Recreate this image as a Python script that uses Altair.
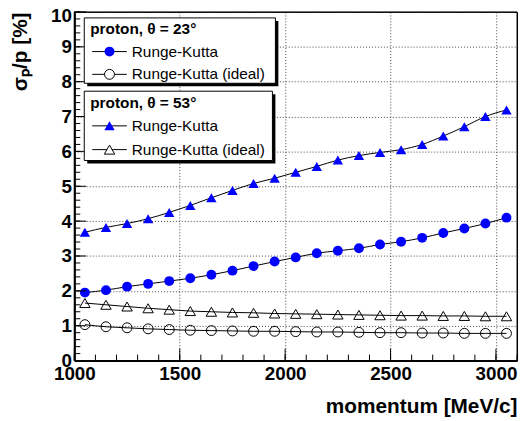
import altair as alt
import pandas as pd

momentum = [1050, 1150, 1250, 1350, 1450, 1550, 1650, 1750, 1850, 1950, 2050,
            2150, 2250, 2350, 2450, 2550, 2650, 2750, 2850, 2950, 3050]
rk23 = [1.95, 2.02, 2.12, 2.20, 2.28, 2.36, 2.46, 2.58, 2.71, 2.84, 2.96,
        3.08, 3.15, 3.22, 3.33, 3.41, 3.52, 3.66, 3.79, 3.93, 4.10]
rk23_ideal = [1.03, 0.97, 0.94, 0.91, 0.89, 0.87, 0.86, 0.85, 0.84, 0.84, 0.83,
              0.82, 0.82, 0.81, 0.80, 0.80, 0.79, 0.79, 0.78, 0.78, 0.78]
rk53 = [3.68, 3.82, 3.93, 4.07, 4.25, 4.45, 4.67, 4.88, 5.08, 5.23, 5.40,
        5.57, 5.75, 5.88, 5.97, 6.05, 6.20, 6.44, 6.71, 7.00, 7.19]
rk53_ideal = [1.65, 1.60, 1.55, 1.50, 1.46, 1.42, 1.40, 1.38, 1.37, 1.35, 1.34,
              1.33, 1.32, 1.31, 1.30, 1.29, 1.29, 1.28, 1.28, 1.27, 1.27]

x_major = [1000, 1500, 2000, 2500, 3000]
x_minor = list(range(1000, 3101, 100))
y_major = list(range(0, 11))
y_minor = [round(i * 0.2, 1) for i in range(0, 51)]

W, H = 447, 352
FONT = "Liberation Sans"
LFS = 15.5
DY = 6  # legend top offset inside plot

series = [
    ("rk23", rk23, "circle", True),
    ("rk23i", rk23_ideal, "circle", False),
    ("rk53", rk53, "triangle-up", True),
    ("rk53i", rk53_ideal, "triangle-up", False),
]

xs = alt.Scale(domain=[1000, 3100], nice=False, zero=False)
ys = alt.Scale(domain=[0, 10], nice=False, zero=False)

XAXIS = alt.Axis(values=x_major, title="momentum [MeV/c]", grid=True, ticks=False, format="d",
                 titleAnchor="end", titleAlign="right", titleX=W, titleY=46,
                 titleBaseline="middle", labelPadding=4, labelFlush=False)
YAXIS = alt.Axis(values=y_major, title="σₚ/p [%]", grid=True, ticks=False, format="d",
                 titleAngle=270, titleAlign="right", titleX=-54, titleY=0,
                 titleBaseline="middle", labelPadding=3, labelFlush=False,
                 labelOffset={"condition": {"test": "datum.value == 10", "value": 4}, "value": 0})

def X():
    return alt.X("momentum:Q", scale=xs, axis=XAXIS)

def Y():
    return alt.Y("res:Q", scale=ys, axis=YAXIS)

layers = []
for name, vals, shape, filled in series:
    df = pd.DataFrame({"momentum": momentum, "res": vals})
    line = alt.Chart(df).mark_line(color="black", strokeWidth=1, interpolate="monotone").encode(x=X(), y=Y())
    size = 100 if shape == "circle" else 110
    if filled:
        pts = alt.Chart(df).mark_point(shape=shape, filled=True, color="#0000ff", opacity=1, size=size)
    else:
        pts = alt.Chart(df).mark_point(shape=shape, filled=False, color="black", strokeWidth=1,
                                       opacity=1, size=size)
    layers += [line, pts.encode(x=X(), y=Y())]

# inward ticks
def xticks(vals, length):
    return alt.Chart(pd.DataFrame({"momentum": vals})).mark_rule(color="black", strokeWidth=1).encode(
        x=X(), y=alt.value(H), y2=alt.value(H - length))

def yticks(vals, length):
    return alt.Chart(pd.DataFrame({"res": vals})).mark_rule(color="black", strokeWidth=1).encode(
        y=Y(), x=alt.value(0), x2=alt.value(length))

layers += [xticks(x_minor, 6), xticks(x_major, 12), yticks(y_minor, 6), yticks(y_major, 12)]

one = pd.DataFrame({"a": [0]})

frame = alt.Chart(one).mark_rect(fill=None, stroke="black", strokeWidth=1).encode(
    x=alt.value(0), x2=alt.value(W), y=alt.value(0), y2=alt.value(H))
layers.append(frame)

def rect(x1, x2, y1, y2, fill, stroke=None):
    kw = dict(fill=fill)
    if stroke:
        kw.update(stroke=stroke, strokeWidth=1)
    return alt.Chart(one).mark_rect(**kw).encode(
        x=alt.value(x1), x2=alt.value(x2), y=alt.value(y1 + DY), y2=alt.value(y2 + DY))

def txt(x, y, s, bold=False):
    return alt.Chart(one).mark_text(text=s, align="left", baseline="middle", font=FONT,
                                    fontSize=LFS, fontWeight="bold" if bold else "normal",
                                    color="black").encode(x=alt.value(x), y=alt.value(y + DY))

def entry(y, shape, filled, label):
    seg = alt.Chart(one).mark_rule(color="black", strokeWidth=1).encode(
        x=alt.value(18), x2=alt.value(53), y=alt.value(y + DY))
    size = 100 if shape == "circle" else 110
    if filled:
        m = alt.Chart(one).mark_point(shape=shape, filled=True, color="#0000ff", opacity=1, size=size)
    else:
        m = alt.Chart(one).mark_point(shape=shape, filled=True, fill="white", stroke="black",
                                      strokeWidth=1, opacity=1, size=size)
    m = m.encode(x=alt.value(35.5), y=alt.value(y + DY))
    return [seg, m, txt(58, y, label)]

legend = []
legend += [rect(13, 206, 3, 69, "black"), rect(10, 203, 0, 66, "white", "black")]
legend += [txt(16, 11, "proton, θ = 23°", bold=True)]
legend += entry(34, "circle", True, "Runge-Kutta")
legend += entry(57, "circle", False, "Runge-Kutta (ideal)")
legend += [rect(13, 203, 77, 147, "black"), rect(10, 200, 74, 144, "white", "black")]
legend += [txt(16, 86, "proton, θ = 53°", bold=True)]
legend += entry(109, "triangle-up", True, "Runge-Kutta")
legend += entry(133, "triangle-up", False, "Runge-Kutta (ideal)")

chart = alt.layer(*layers, *legend).properties(
    width=W, height=H,
    background="white",
    autosize=alt.AutoSizeParams(type="none"),
    padding={"left": 67, "top": 2, "right": 4, "bottom": 57},
).configure_view(stroke="black", strokeWidth=1).configure_axis(
    labelFont=FONT, labelFontSize=19, labelFontWeight="bold", labelColor="black",
    titleFont=FONT, titleFontSize=21, titleFontWeight="bold", titleColor="black",
    domainColor="black", domainWidth=2,
    gridColor="#444", gridDash=[1, 2], gridWidth=1, gridOpacity=1,
)

chart.save("out.html", embed_options={"renderer": "svg", "actions": False})
